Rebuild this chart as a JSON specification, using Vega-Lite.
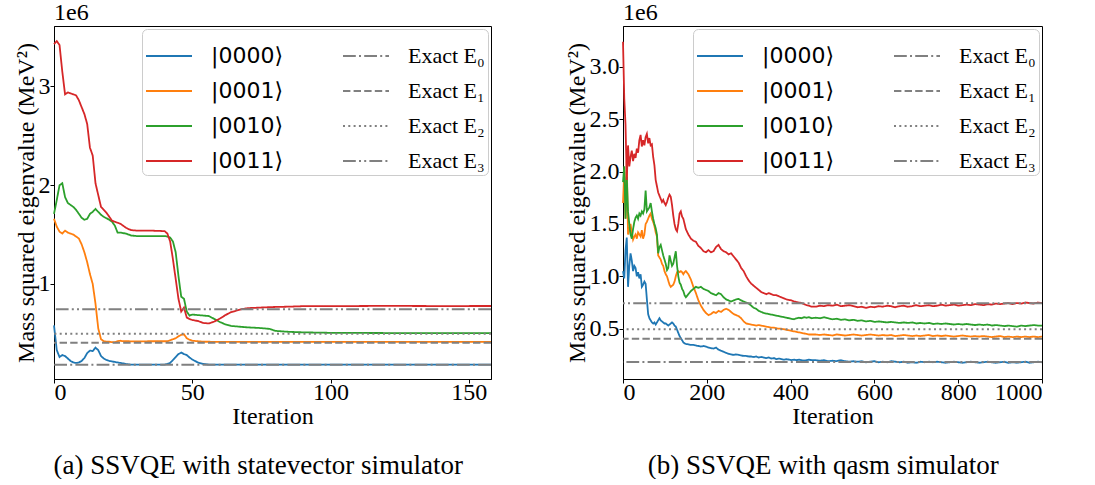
{
  "$schema": "https://vega.github.io/schema/vega-lite/v6.json",
  "background": "white",
  "padding": {"left": 13, "top": 0, "right": 0, "bottom": 0},
  "config": {
    "view": {"stroke": "black", "strokeWidth": 1},
    "font": "Liberation Serif",
    "axis": {"labelFont": "Liberation Serif", "labelFontSize": 24, "titleFont": "Liberation Serif", "titleFontSize": 24, "titleFontWeight": "normal", "grid": false, "domainColor": "black", "tickColor": "black", "labelColor": "black", "titleColor": "black", "tickSize": 4, "labelPadding": 0, "titlePadding": 0},
    "axisX": {"labelPadding": -3},
    "legend": {"orient": "top-right", "offset": 3, "columns": 2, "columnPadding": 56, "rowPadding": 0, "padding": 3, "fillColor": "white", "strokeColor": "#cccccc", "cornerRadius": 5, "symbolType": "stroke", "symbolSize": 2116, "symbolStrokeWidth": 2, "labelFont": {"expr": "indexof(datum.label, 'Exact') >= 0 ? 'Liberation Serif' : 'DejaVu Sans'"}, "labelFontSize": 22, "labelOffset": 18, "labelLimit": 250, "labelColor": "black"}
  },
  "datasets": {
    "exact": [
      {"series": "Exact E₀", "value": 0.183},
      {"series": "Exact E₁", "value": 0.405},
      {"series": "Exact E₂", "value": 0.495},
      {"series": "Exact E₃", "value": 0.743}
    ],
    "a": [
      {"iter": 0, "|0000⟩": 0.58, "|0001⟩": 1.66, "|0010⟩": 1.71, "|0011⟩": 3.43},
      {"iter": 1, "|0000⟩": 0.33, "|0001⟩": 1.58, "|0010⟩": 1.85, "|0011⟩": 3.46},
      {"iter": 2, "|0000⟩": 0.26, "|0001⟩": 1.53, "|0010⟩": 2.0, "|0011⟩": 3.42},
      {"iter": 3, "|0000⟩": 0.28, "|0001⟩": 1.51, "|0010⟩": 2.02, "|0011⟩": 3.15},
      {"iter": 4, "|0000⟩": 0.27, "|0001⟩": 1.54, "|0010⟩": 1.88, "|0011⟩": 2.92},
      {"iter": 5, "|0000⟩": 0.245, "|0001⟩": 1.52, "|0010⟩": 1.82, "|0011⟩": 2.94},
      {"iter": 6, "|0000⟩": 0.22, "|0001⟩": 1.51, "|0010⟩": 1.8, "|0011⟩": 2.93},
      {"iter": 7, "|0000⟩": 0.205, "|0001⟩": 1.5, "|0010⟩": 1.78, "|0011⟩": 2.92},
      {"iter": 8, "|0000⟩": 0.2, "|0001⟩": 1.48, "|0010⟩": 1.75, "|0011⟩": 2.91},
      {"iter": 9, "|0000⟩": 0.205, "|0001⟩": 1.46, "|0010⟩": 1.71, "|0011⟩": 2.86},
      {"iter": 10, "|0000⟩": 0.22, "|0001⟩": 1.4, "|0010⟩": 1.67, "|0011⟩": 2.79},
      {"iter": 11, "|0000⟩": 0.25, "|0001⟩": 1.32, "|0010⟩": 1.65, "|0011⟩": 2.72},
      {"iter": 12, "|0000⟩": 0.3, "|0001⟩": 1.22, "|0010⟩": 1.66, "|0011⟩": 2.62},
      {"iter": 13, "|0000⟩": 0.325, "|0001⟩": 1.1, "|0010⟩": 1.71, "|0011⟩": 2.38},
      {"iter": 14, "|0000⟩": 0.32, "|0001⟩": 1.0, "|0010⟩": 1.73, "|0011⟩": 2.3},
      {"iter": 15, "|0000⟩": 0.355, "|0001⟩": 0.8, "|0010⟩": 1.76, "|0011⟩": 2.02},
      {"iter": 16, "|0000⟩": 0.33, "|0001⟩": 0.55, "|0010⟩": 1.73, "|0011⟩": 1.9},
      {"iter": 17, "|0000⟩": 0.27, "|0001⟩": 0.44, "|0010⟩": 1.7, "|0011⟩": 1.78},
      {"iter": 18, "|0000⟩": 0.245, "|0001⟩": 0.42, "|0010⟩": 1.68, "|0011⟩": 1.75},
      {"iter": 19, "|0000⟩": 0.23, "|0001⟩": 0.415, "|0010⟩": 1.665, "|0011⟩": 1.72},
      {"iter": 20, "|0000⟩": 0.22, "|0001⟩": 0.415, "|0010⟩": 1.65, "|0011⟩": 1.68},
      {"iter": 21, "|0000⟩": 0.215, "|0001⟩": 0.41, "|0010⟩": 1.63, "|0011⟩": 1.64},
      {"iter": 22, "|0000⟩": 0.21, "|0001⟩": 0.41, "|0010⟩": 1.59, "|0011⟩": 1.63},
      {"iter": 23, "|0000⟩": 0.205, "|0001⟩": 0.42, "|0010⟩": 1.52, "|0011⟩": 1.62},
      {"iter": 24, "|0000⟩": 0.2, "|0001⟩": 0.425, "|0010⟩": 1.52, "|0011⟩": 1.61},
      {"iter": 25, "|0000⟩": 0.195, "|0001⟩": 0.42, "|0010⟩": 1.515, "|0011⟩": 1.59},
      {"iter": 26, "|0000⟩": 0.19, "|0001⟩": 0.42, "|0010⟩": 1.51, "|0011⟩": 1.57},
      {"iter": 27, "|0000⟩": 0.186, "|0001⟩": 0.42, "|0010⟩": 1.5, "|0011⟩": 1.555},
      {"iter": 28, "|0000⟩": 0.183, "|0001⟩": 0.418, "|0010⟩": 1.49, "|0011⟩": 1.545},
      {"iter": 30, "|0000⟩": 0.183, "|0001⟩": 0.418, "|0010⟩": 1.485, "|0011⟩": 1.54},
      {"iter": 35, "|0000⟩": 0.183, "|0001⟩": 0.42, "|0010⟩": 1.485, "|0011⟩": 1.54},
      {"iter": 40, "|0000⟩": 0.183, "|0001⟩": 0.42, "|0010⟩": 1.485, "|0011⟩": 1.535},
      {"iter": 41, "|0000⟩": 0.19, "|0001⟩": 0.42, "|0010⟩": 1.48, "|0011⟩": 1.51},
      {"iter": 42, "|0000⟩": 0.2, "|0001⟩": 0.43, "|0010⟩": 1.47, "|0011⟩": 1.43},
      {"iter": 43, "|0000⟩": 0.23, "|0001⟩": 0.44, "|0010⟩": 1.43, "|0011⟩": 1.25},
      {"iter": 44, "|0000⟩": 0.26, "|0001⟩": 0.45, "|0010⟩": 1.32, "|0011⟩": 1.05},
      {"iter": 45, "|0000⟩": 0.29, "|0001⟩": 0.47, "|0010⟩": 1.08, "|0011⟩": 0.85},
      {"iter": 46, "|0000⟩": 0.305, "|0001⟩": 0.485, "|0010⟩": 0.87, "|0011⟩": 0.72},
      {"iter": 47, "|0000⟩": 0.29, "|0001⟩": 0.49, "|0010⟩": 0.85, "|0011⟩": 0.76},
      {"iter": 48, "|0000⟩": 0.28, "|0001⟩": 0.45, "|0010⟩": 0.72, "|0011⟩": 0.66},
      {"iter": 49, "|0000⟩": 0.255, "|0001⟩": 0.435, "|0010⟩": 0.68, "|0011⟩": 0.645},
      {"iter": 50, "|0000⟩": 0.235, "|0001⟩": 0.425, "|0010⟩": 0.69, "|0011⟩": 0.635},
      {"iter": 52, "|0000⟩": 0.205, "|0001⟩": 0.42, "|0010⟩": 0.685, "|0011⟩": 0.625},
      {"iter": 54, "|0000⟩": 0.19, "|0001⟩": 0.415, "|0010⟩": 0.68, "|0011⟩": 0.605},
      {"iter": 56, "|0000⟩": 0.183, "|0001⟩": 0.415, "|0010⟩": 0.675, "|0011⟩": 0.6},
      {"iter": 58, "|0000⟩": 0.183, "|0001⟩": 0.413, "|0010⟩": 0.645, "|0011⟩": 0.62},
      {"iter": 60, "|0000⟩": 0.183, "|0001⟩": 0.413, "|0010⟩": 0.615, "|0011⟩": 0.65},
      {"iter": 62, "|0000⟩": 0.183, "|0001⟩": 0.413, "|0010⟩": 0.59, "|0011⟩": 0.685},
      {"iter": 64, "|0000⟩": 0.183, "|0001⟩": 0.413, "|0010⟩": 0.575, "|0011⟩": 0.715},
      {"iter": 66, "|0000⟩": 0.183, "|0001⟩": 0.413, "|0010⟩": 0.57, "|0011⟩": 0.73},
      {"iter": 68, "|0000⟩": 0.183, "|0001⟩": 0.413, "|0010⟩": 0.565, "|0011⟩": 0.745},
      {"iter": 70, "|0000⟩": 0.183, "|0001⟩": 0.413, "|0010⟩": 0.56, "|0011⟩": 0.755},
      {"iter": 74, "|0000⟩": 0.183, "|0001⟩": 0.413, "|0010⟩": 0.555, "|0011⟩": 0.76},
      {"iter": 78, "|0000⟩": 0.183, "|0001⟩": 0.413, "|0010⟩": 0.545, "|0011⟩": 0.765},
      {"iter": 80, "|0000⟩": 0.183, "|0001⟩": 0.413, "|0010⟩": 0.525, "|0011⟩": 0.767},
      {"iter": 85, "|0000⟩": 0.183, "|0001⟩": 0.413, "|0010⟩": 0.515, "|0011⟩": 0.77},
      {"iter": 90, "|0000⟩": 0.183, "|0001⟩": 0.413, "|0010⟩": 0.51, "|0011⟩": 0.775},
      {"iter": 100, "|0000⟩": 0.183, "|0001⟩": 0.413, "|0010⟩": 0.505, "|0011⟩": 0.775},
      {"iter": 120, "|0000⟩": 0.183, "|0001⟩": 0.413, "|0010⟩": 0.503, "|0011⟩": 0.778},
      {"iter": 140, "|0000⟩": 0.183, "|0001⟩": 0.413, "|0010⟩": 0.503, "|0011⟩": 0.776},
      {"iter": 158, "|0000⟩": 0.183, "|0001⟩": 0.413, "|0010⟩": 0.503, "|0011⟩": 0.777}
    ],
    "b": [
      {"iter": 0, "|0000⟩": 1.05, "|0001⟩": 1.7, "|0010⟩": 1.9, "|0011⟩": 3.24},
      {"iter": 3, "|0000⟩": 0.98, "|0001⟩": 2.0, "|0010⟩": 2.05, "|0011⟩": 2.7},
      {"iter": 6, "|0000⟩": 1.25, "|0001⟩": 1.55, "|0010⟩": 1.55, "|0011⟩": 2.45},
      {"iter": 9, "|0000⟩": 1.37, "|0001⟩": 2.1, "|0010⟩": 1.95, "|0011⟩": 1.92},
      {"iter": 12, "|0000⟩": 0.9, "|0001⟩": 1.4, "|0010⟩": 1.62, "|0011⟩": 2.25},
      {"iter": 15, "|0000⟩": 1.1, "|0001⟩": 1.45, "|0010⟩": 1.5, "|0011⟩": 2.05},
      {"iter": 18, "|0000⟩": 1.22, "|0001⟩": 1.5, "|0010⟩": 1.4, "|0011⟩": 2.14},
      {"iter": 21, "|0000⟩": 1.15, "|0001⟩": 1.42, "|0010⟩": 1.36, "|0011⟩": 2.2},
      {"iter": 24, "|0000⟩": 1.05, "|0001⟩": 1.35, "|0010⟩": 1.45, "|0011⟩": 2.1},
      {"iter": 27, "|0000⟩": 1.1, "|0001⟩": 1.38, "|0010⟩": 1.52, "|0011⟩": 2.17},
      {"iter": 30, "|0000⟩": 1.08, "|0001⟩": 1.4, "|0010⟩": 1.56, "|0011⟩": 2.13},
      {"iter": 33, "|0000⟩": 1.0, "|0001⟩": 1.36, "|0010⟩": 1.58, "|0011⟩": 2.22},
      {"iter": 36, "|0000⟩": 1.04, "|0001⟩": 1.42, "|0010⟩": 1.55, "|0011⟩": 2.18},
      {"iter": 39, "|0000⟩": 0.98, "|0001⟩": 1.4, "|0010⟩": 1.6, "|0011⟩": 2.3},
      {"iter": 42, "|0000⟩": 1.02, "|0001⟩": 1.38, "|0010⟩": 1.58, "|0011⟩": 2.35},
      {"iter": 45, "|0000⟩": 0.9, "|0001⟩": 1.44, "|0010⟩": 1.62, "|0011⟩": 2.24},
      {"iter": 48, "|0000⟩": 0.92, "|0001⟩": 1.36, "|0010⟩": 1.6, "|0011⟩": 2.3},
      {"iter": 51, "|0000⟩": 0.95, "|0001⟩": 1.4, "|0010⟩": 1.64, "|0011⟩": 2.25},
      {"iter": 54, "|0000⟩": 0.93, "|0001⟩": 1.5, "|0010⟩": 1.82, "|0011⟩": 2.33},
      {"iter": 57, "|0000⟩": 0.78, "|0001⟩": 1.52, "|0010⟩": 1.62, "|0011⟩": 2.36},
      {"iter": 60, "|0000⟩": 0.64, "|0001⟩": 1.55, "|0010⟩": 1.64, "|0011⟩": 2.27},
      {"iter": 63, "|0000⟩": 0.6, "|0001⟩": 1.58, "|0010⟩": 1.66, "|0011⟩": 2.32},
      {"iter": 66, "|0000⟩": 0.58, "|0001⟩": 1.6, "|0010⟩": 1.7, "|0011⟩": 2.25},
      {"iter": 69, "|0000⟩": 0.56, "|0001⟩": 1.55, "|0010⟩": 1.62, "|0011⟩": 2.26},
      {"iter": 72, "|0000⟩": 0.55, "|0001⟩": 1.52, "|0010⟩": 1.55, "|0011⟩": 2.14},
      {"iter": 75, "|0000⟩": 0.56, "|0001⟩": 1.48, "|0010⟩": 1.5, "|0011⟩": 2.06},
      {"iter": 78, "|0000⟩": 0.54, "|0001⟩": 1.42, "|0010⟩": 1.46, "|0011⟩": 1.92},
      {"iter": 81, "|0000⟩": 0.56, "|0001⟩": 1.38, "|0010⟩": 1.4, "|0011⟩": 1.86},
      {"iter": 84, "|0000⟩": 0.58, "|0001⟩": 1.2, "|0010⟩": 1.22, "|0011⟩": 1.8},
      {"iter": 87, "|0000⟩": 0.6, "|0001⟩": 1.18, "|0010⟩": 1.28, "|0011⟩": 1.77},
      {"iter": 90, "|0000⟩": 0.58, "|0001⟩": 1.16, "|0010⟩": 1.3, "|0011⟩": 1.74},
      {"iter": 93, "|0000⟩": 0.57, "|0001⟩": 1.12, "|0010⟩": 1.25, "|0011⟩": 1.71},
      {"iter": 96, "|0000⟩": 0.56, "|0001⟩": 1.1, "|0010⟩": 1.2, "|0011⟩": 1.73},
      {"iter": 99, "|0000⟩": 0.55, "|0001⟩": 1.05, "|0010⟩": 1.16, "|0011⟩": 1.7},
      {"iter": 102, "|0000⟩": 0.55, "|0001⟩": 1.02, "|0010⟩": 1.12, "|0011⟩": 1.68},
      {"iter": 105, "|0000⟩": 0.54, "|0001⟩": 1.0, "|0010⟩": 1.06, "|0011⟩": 1.71},
      {"iter": 108, "|0000⟩": 0.53, "|0001⟩": 0.96, "|0010⟩": 1.08, "|0011⟩": 1.75},
      {"iter": 111, "|0000⟩": 0.54, "|0001⟩": 0.92, "|0010⟩": 1.2, "|0011⟩": 1.78},
      {"iter": 114, "|0000⟩": 0.55, "|0001⟩": 0.9, "|0010⟩": 1.15, "|0011⟩": 1.76},
      {"iter": 117, "|0000⟩": 0.56, "|0001⟩": 0.91, "|0010⟩": 1.1, "|0011⟩": 1.68},
      {"iter": 120, "|0000⟩": 0.55, "|0001⟩": 0.92, "|0010⟩": 1.12, "|0011⟩": 1.58},
      {"iter": 123, "|0000⟩": 0.53, "|0001⟩": 0.95, "|0010⟩": 1.18, "|0011⟩": 1.5},
      {"iter": 126, "|0000⟩": 0.52, "|0001⟩": 1.0, "|0010⟩": 1.24, "|0011⟩": 1.45},
      {"iter": 129, "|0000⟩": 0.49, "|0001⟩": 1.04, "|0010⟩": 1.1, "|0011⟩": 1.43},
      {"iter": 132, "|0000⟩": 0.46, "|0001⟩": 1.05, "|0010⟩": 1.0, "|0011⟩": 1.5},
      {"iter": 135, "|0000⟩": 0.43, "|0001⟩": 1.04, "|0010⟩": 0.94, "|0011⟩": 1.6},
      {"iter": 138, "|0000⟩": 0.41, "|0001⟩": 1.05, "|0010⟩": 0.92, "|0011⟩": 1.62},
      {"iter": 141, "|0000⟩": 0.39, "|0001⟩": 1.04, "|0010⟩": 0.88, "|0011⟩": 1.57},
      {"iter": 144, "|0000⟩": 0.37, "|0001⟩": 1.02, "|0010⟩": 0.86, "|0011⟩": 1.55},
      {"iter": 147, "|0000⟩": 0.36, "|0001⟩": 1.04, "|0010⟩": 0.82, "|0011⟩": 1.5},
      {"iter": 150, "|0000⟩": 0.355, "|0001⟩": 1.05, "|0010⟩": 0.8, "|0011⟩": 1.45},
      {"iter": 156, "|0000⟩": 0.35, "|0001⟩": 1.02, "|0010⟩": 0.83, "|0011⟩": 1.4},
      {"iter": 162, "|0000⟩": 0.345, "|0001⟩": 0.97, "|0010⟩": 0.86, "|0011⟩": 1.36},
      {"iter": 168, "|0000⟩": 0.345, "|0001⟩": 0.9, "|0010⟩": 0.88, "|0011⟩": 1.34},
      {"iter": 174, "|0000⟩": 0.34, "|0001⟩": 0.84, "|0010⟩": 0.9, "|0011⟩": 1.33},
      {"iter": 180, "|0000⟩": 0.335, "|0001⟩": 0.77, "|0010⟩": 0.89, "|0011⟩": 1.29},
      {"iter": 186, "|0000⟩": 0.33, "|0001⟩": 0.72, "|0010⟩": 0.9, "|0011⟩": 1.27},
      {"iter": 192, "|0000⟩": 0.335, "|0001⟩": 0.68, "|0010⟩": 0.88, "|0011⟩": 1.24},
      {"iter": 198, "|0000⟩": 0.33, "|0001⟩": 0.65, "|0010⟩": 0.87, "|0011⟩": 1.23},
      {"iter": 204, "|0000⟩": 0.32, "|0001⟩": 0.63, "|0010⟩": 0.86, "|0011⟩": 1.25},
      {"iter": 210, "|0000⟩": 0.315, "|0001⟩": 0.64, "|0010⟩": 0.84, "|0011⟩": 1.23},
      {"iter": 216, "|0000⟩": 0.31, "|0001⟩": 0.66, "|0010⟩": 0.83, "|0011⟩": 1.24},
      {"iter": 222, "|0000⟩": 0.32, "|0001⟩": 0.65, "|0010⟩": 0.82, "|0011⟩": 1.28},
      {"iter": 228, "|0000⟩": 0.3, "|0001⟩": 0.67, "|0010⟩": 0.84, "|0011⟩": 1.3},
      {"iter": 234, "|0000⟩": 0.29, "|0001⟩": 0.66, "|0010⟩": 0.83, "|0011⟩": 1.26},
      {"iter": 240, "|0000⟩": 0.28, "|0001⟩": 0.68, "|0010⟩": 0.8, "|0011⟩": 1.24},
      {"iter": 246, "|0000⟩": 0.27, "|0001⟩": 0.69, "|0010⟩": 0.78, "|0011⟩": 1.23},
      {"iter": 252, "|0000⟩": 0.26, "|0001⟩": 0.68, "|0010⟩": 0.77, "|0011⟩": 1.21},
      {"iter": 258, "|0000⟩": 0.255, "|0001⟩": 0.66, "|0010⟩": 0.76, "|0011⟩": 1.22},
      {"iter": 264, "|0000⟩": 0.25, "|0001⟩": 0.64, "|0010⟩": 0.77, "|0011⟩": 1.19},
      {"iter": 270, "|0000⟩": 0.255, "|0001⟩": 0.63, "|0010⟩": 0.78, "|0011⟩": 1.16},
      {"iter": 276, "|0000⟩": 0.25, "|0001⟩": 0.62, "|0010⟩": 0.785, "|0011⟩": 1.13},
      {"iter": 282, "|0000⟩": 0.245, "|0001⟩": 0.6, "|0010⟩": 0.77, "|0011⟩": 1.08},
      {"iter": 288, "|0000⟩": 0.24, "|0001⟩": 0.57, "|0010⟩": 0.76, "|0011⟩": 1.05},
      {"iter": 294, "|0000⟩": 0.24, "|0001⟩": 0.55, "|0010⟩": 0.75, "|0011⟩": 1.0},
      {"iter": 300, "|0000⟩": 0.235, "|0001⟩": 0.545, "|0010⟩": 0.74, "|0011⟩": 0.96},
      {"iter": 306, "|0000⟩": 0.235, "|0001⟩": 0.54, "|0010⟩": 0.72, "|0011⟩": 0.93},
      {"iter": 312, "|0000⟩": 0.23, "|0001⟩": 0.535, "|0010⟩": 0.7, "|0011⟩": 0.91},
      {"iter": 318, "|0000⟩": 0.235, "|0001⟩": 0.53, "|0010⟩": 0.69, "|0011⟩": 0.89},
      {"iter": 324, "|0000⟩": 0.225, "|0001⟩": 0.535, "|0010⟩": 0.67, "|0011⟩": 0.87},
      {"iter": 330, "|0000⟩": 0.23, "|0001⟩": 0.53, "|0010⟩": 0.66, "|0011⟩": 0.85},
      {"iter": 336, "|0000⟩": 0.225, "|0001⟩": 0.525, "|0010⟩": 0.65, "|0011⟩": 0.84},
      {"iter": 342, "|0000⟩": 0.22, "|0001⟩": 0.52, "|0010⟩": 0.645, "|0011⟩": 0.83},
      {"iter": 348, "|0000⟩": 0.225, "|0001⟩": 0.515, "|0010⟩": 0.64, "|0011⟩": 0.84},
      {"iter": 354, "|0000⟩": 0.215, "|0001⟩": 0.51, "|0010⟩": 0.635, "|0011⟩": 0.83},
      {"iter": 360, "|0000⟩": 0.22, "|0001⟩": 0.51, "|0010⟩": 0.63, "|0011⟩": 0.82},
      {"iter": 366, "|0000⟩": 0.21, "|0001⟩": 0.505, "|0010⟩": 0.625, "|0011⟩": 0.82},
      {"iter": 372, "|0000⟩": 0.215, "|0001⟩": 0.5, "|0010⟩": 0.62, "|0011⟩": 0.81},
      {"iter": 378, "|0000⟩": 0.21, "|0001⟩": 0.5, "|0010⟩": 0.615, "|0011⟩": 0.8},
      {"iter": 384, "|0000⟩": 0.205, "|0001⟩": 0.495, "|0010⟩": 0.61, "|0011⟩": 0.79},
      {"iter": 390, "|0000⟩": 0.21, "|0001⟩": 0.49, "|0010⟩": 0.605, "|0011⟩": 0.78},
      {"iter": 396, "|0000⟩": 0.205, "|0001⟩": 0.485, "|0010⟩": 0.6, "|0011⟩": 0.775},
      {"iter": 402, "|0000⟩": 0.2, "|0001⟩": 0.48, "|0010⟩": 0.595, "|0011⟩": 0.77},
      {"iter": 408, "|0000⟩": 0.205, "|0001⟩": 0.475, "|0010⟩": 0.59, "|0011⟩": 0.76},
      {"iter": 414, "|0000⟩": 0.2, "|0001⟩": 0.47, "|0010⟩": 0.6, "|0011⟩": 0.755},
      {"iter": 420, "|0000⟩": 0.205, "|0001⟩": 0.465, "|0010⟩": 0.605, "|0011⟩": 0.75},
      {"iter": 426, "|0000⟩": 0.2, "|0001⟩": 0.46, "|0010⟩": 0.6, "|0011⟩": 0.745},
      {"iter": 432, "|0000⟩": 0.195, "|0001⟩": 0.455, "|0010⟩": 0.61, "|0011⟩": 0.735},
      {"iter": 438, "|0000⟩": 0.2, "|0001⟩": 0.45, "|0010⟩": 0.605, "|0011⟩": 0.725},
      {"iter": 444, "|0000⟩": 0.205, "|0001⟩": 0.445, "|0010⟩": 0.61, "|0011⟩": 0.72},
      {"iter": 450, "|0000⟩": 0.2, "|0001⟩": 0.445, "|0010⟩": 0.6, "|0011⟩": 0.71},
      {"iter": 460, "|0000⟩": 0.2, "|0001⟩": 0.445, "|0010⟩": 0.605, "|0011⟩": 0.71},
      {"iter": 470, "|0000⟩": 0.195, "|0001⟩": 0.44, "|0010⟩": 0.6, "|0011⟩": 0.72},
      {"iter": 480, "|0000⟩": 0.2, "|0001⟩": 0.445, "|0010⟩": 0.61, "|0011⟩": 0.715},
      {"iter": 490, "|0000⟩": 0.19, "|0001⟩": 0.44, "|0010⟩": 0.6, "|0011⟩": 0.725},
      {"iter": 500, "|0000⟩": 0.195, "|0001⟩": 0.435, "|0010⟩": 0.59, "|0011⟩": 0.72},
      {"iter": 510, "|0000⟩": 0.19, "|0001⟩": 0.445, "|0010⟩": 0.595, "|0011⟩": 0.73},
      {"iter": 520, "|0000⟩": 0.2, "|0001⟩": 0.44, "|0010⟩": 0.585, "|0011⟩": 0.715},
      {"iter": 530, "|0000⟩": 0.19, "|0001⟩": 0.435, "|0010⟩": 0.59, "|0011⟩": 0.72},
      {"iter": 540, "|0000⟩": 0.185, "|0001⟩": 0.44, "|0010⟩": 0.58, "|0011⟩": 0.725},
      {"iter": 550, "|0000⟩": 0.19, "|0001⟩": 0.445, "|0010⟩": 0.585, "|0011⟩": 0.715},
      {"iter": 560, "|0000⟩": 0.185, "|0001⟩": 0.44, "|0010⟩": 0.575, "|0011⟩": 0.705},
      {"iter": 570, "|0000⟩": 0.19, "|0001⟩": 0.435, "|0010⟩": 0.58, "|0011⟩": 0.71},
      {"iter": 580, "|0000⟩": 0.18, "|0001⟩": 0.44, "|0010⟩": 0.57, "|0011⟩": 0.7},
      {"iter": 590, "|0000⟩": 0.185, "|0001⟩": 0.445, "|0010⟩": 0.575, "|0011⟩": 0.71},
      {"iter": 600, "|0000⟩": 0.19, "|0001⟩": 0.44, "|0010⟩": 0.565, "|0011⟩": 0.705},
      {"iter": 610, "|0000⟩": 0.18, "|0001⟩": 0.435, "|0010⟩": 0.57, "|0011⟩": 0.715},
      {"iter": 620, "|0000⟩": 0.185, "|0001⟩": 0.44, "|0010⟩": 0.565, "|0011⟩": 0.71},
      {"iter": 630, "|0000⟩": 0.18, "|0001⟩": 0.435, "|0010⟩": 0.56, "|0011⟩": 0.72},
      {"iter": 640, "|0000⟩": 0.19, "|0001⟩": 0.44, "|0010⟩": 0.565, "|0011⟩": 0.715},
      {"iter": 650, "|0000⟩": 0.185, "|0001⟩": 0.43, "|0010⟩": 0.56, "|0011⟩": 0.705},
      {"iter": 660, "|0000⟩": 0.18, "|0001⟩": 0.435, "|0010⟩": 0.555, "|0011⟩": 0.715},
      {"iter": 670, "|0000⟩": 0.185, "|0001⟩": 0.44, "|0010⟩": 0.56, "|0011⟩": 0.72},
      {"iter": 680, "|0000⟩": 0.175, "|0001⟩": 0.435, "|0010⟩": 0.555, "|0011⟩": 0.71},
      {"iter": 690, "|0000⟩": 0.18, "|0001⟩": 0.43, "|0010⟩": 0.56, "|0011⟩": 0.715},
      {"iter": 700, "|0000⟩": 0.175, "|0001⟩": 0.435, "|0010⟩": 0.55, "|0011⟩": 0.725},
      {"iter": 710, "|0000⟩": 0.185, "|0001⟩": 0.43, "|0010⟩": 0.555, "|0011⟩": 0.715},
      {"iter": 720, "|0000⟩": 0.18, "|0001⟩": 0.435, "|0010⟩": 0.55, "|0011⟩": 0.72},
      {"iter": 730, "|0000⟩": 0.185, "|0001⟩": 0.44, "|0010⟩": 0.555, "|0011⟩": 0.725},
      {"iter": 740, "|0000⟩": 0.18, "|0001⟩": 0.43, "|0010⟩": 0.545, "|0011⟩": 0.715},
      {"iter": 750, "|0000⟩": 0.185, "|0001⟩": 0.435, "|0010⟩": 0.55, "|0011⟩": 0.72},
      {"iter": 760, "|0000⟩": 0.18, "|0001⟩": 0.43, "|0010⟩": 0.545, "|0011⟩": 0.73},
      {"iter": 770, "|0000⟩": 0.175, "|0001⟩": 0.435, "|0010⟩": 0.55, "|0011⟩": 0.72},
      {"iter": 780, "|0000⟩": 0.18, "|0001⟩": 0.43, "|0010⟩": 0.545, "|0011⟩": 0.725},
      {"iter": 790, "|0000⟩": 0.185, "|0001⟩": 0.425, "|0010⟩": 0.54, "|0011⟩": 0.73},
      {"iter": 800, "|0000⟩": 0.18, "|0001⟩": 0.43, "|0010⟩": 0.545, "|0011⟩": 0.72},
      {"iter": 810, "|0000⟩": 0.175, "|0001⟩": 0.435, "|0010⟩": 0.54, "|0011⟩": 0.725},
      {"iter": 820, "|0000⟩": 0.18, "|0001⟩": 0.43, "|0010⟩": 0.545, "|0011⟩": 0.73},
      {"iter": 830, "|0000⟩": 0.185, "|0001⟩": 0.425, "|0010⟩": 0.54, "|0011⟩": 0.725},
      {"iter": 840, "|0000⟩": 0.18, "|0001⟩": 0.43, "|0010⟩": 0.535, "|0011⟩": 0.735},
      {"iter": 850, "|0000⟩": 0.175, "|0001⟩": 0.425, "|0010⟩": 0.54, "|0011⟩": 0.73},
      {"iter": 860, "|0000⟩": 0.18, "|0001⟩": 0.43, "|0010⟩": 0.535, "|0011⟩": 0.725},
      {"iter": 870, "|0000⟩": 0.185, "|0001⟩": 0.425, "|0010⟩": 0.54, "|0011⟩": 0.735},
      {"iter": 880, "|0000⟩": 0.18, "|0001⟩": 0.42, "|0010⟩": 0.53, "|0011⟩": 0.73},
      {"iter": 890, "|0000⟩": 0.175, "|0001⟩": 0.425, "|0010⟩": 0.535, "|0011⟩": 0.74},
      {"iter": 900, "|0000⟩": 0.18, "|0001⟩": 0.43, "|0010⟩": 0.53, "|0011⟩": 0.735},
      {"iter": 910, "|0000⟩": 0.185, "|0001⟩": 0.42, "|0010⟩": 0.525, "|0011⟩": 0.74},
      {"iter": 920, "|0000⟩": 0.175, "|0001⟩": 0.425, "|0010⟩": 0.53, "|0011⟩": 0.745},
      {"iter": 930, "|0000⟩": 0.18, "|0001⟩": 0.42, "|0010⟩": 0.525, "|0011⟩": 0.735},
      {"iter": 940, "|0000⟩": 0.175, "|0001⟩": 0.425, "|0010⟩": 0.52, "|0011⟩": 0.745},
      {"iter": 950, "|0000⟩": 0.18, "|0001⟩": 0.42, "|0010⟩": 0.53, "|0011⟩": 0.74},
      {"iter": 960, "|0000⟩": 0.185, "|0001⟩": 0.425, "|0010⟩": 0.525, "|0011⟩": 0.75},
      {"iter": 970, "|0000⟩": 0.175, "|0001⟩": 0.42, "|0010⟩": 0.53, "|0011⟩": 0.745},
      {"iter": 980, "|0000⟩": 0.18, "|0001⟩": 0.425, "|0010⟩": 0.535, "|0011⟩": 0.74},
      {"iter": 990, "|0000⟩": 0.185, "|0001⟩": 0.42, "|0010⟩": 0.53, "|0011⟩": 0.75},
      {"iter": 1000, "|0000⟩": 0.18, "|0001⟩": 0.425, "|0010⟩": 0.53, "|0011⟩": 0.745}
    ]
  },
  "hconcat": [
    {
      "title": {"text": "(a) SSVQE with statevector simulator", "orient": "bottom", "anchor": "middle", "frame": "bounds", "fontSize": 27, "font": "Liberation Serif", "fontWeight": "normal", "offset": 24, "dx": 4, "color": "black"},
      "resolve": {"legend": {"color": "independent", "strokeDash": "independent"}},
      "vconcat": [
        {
          "title": {"text": "1e6", "anchor": "start", "frame": "group", "fontSize": 24, "font": "Liberation Serif", "fontWeight": "normal", "offset": 1, "color": "black"},
          "width": 437,
          "height": 353,
          "layer": [
            {
              "data": {"name": "a"},
              "transform": [{"fold": ["|0000⟩", "|0001⟩", "|0010⟩", "|0011⟩"], "as": ["series", "value"]}],
              "mark": {"type": "line", "strokeWidth": 1.8},
              "encoding": {
                "x": {"field": "iter", "type": "quantitative", "scale": {"domain": [0, 158], "nice": false, "zero": false}, "axis": {"values": [0, 50, 100, 150], "format": "d", "title": "Iteration"}},
                "y": {"field": "value", "type": "quantitative", "scale": {"domain": [0.0375, 3.6125], "nice": false, "zero": false}, "axis": {"values": [1, 2, 3], "format": "d", "title": "Mass squared eigenvalue (MeV²)"}},
                "color": {"field": "series", "type": "nominal", "scale": {"domain": ["|0000⟩", "|0001⟩", "|0010⟩", "|0011⟩", "Exact E₀", "Exact E₁", "Exact E₂", "Exact E₃"], "range": ["#1f77b4", "#ff7f0e", "#2ca02c", "#d62728", "#808080", "#808080", "#808080", "#808080"]}, "legend": {"title": null, "orient": "top-right"}},
                "strokeDash": {"field": "series", "type": "nominal", "scale": {"domain": ["|0000⟩", "|0001⟩", "|0010⟩", "|0011⟩", "Exact E₀", "Exact E₁", "Exact E₂", "Exact E₃"], "range": [[1, 0], [1, 0], [1, 0], [1, 0], [12.8, 3.2, 2, 3.2], [7.4, 3.2], [2, 3.3], [12.8, 3.2, 2, 3.2, 2, 3.2]]}, "legend": {"title": null, "orient": "top-right"}}
              }
            },
            {
              "data": {"name": "exact"},
              "mark": {"type": "rule", "strokeWidth": 2},
              "encoding": {
                "y": {"field": "value", "type": "quantitative"},
                "color": {"field": "series", "type": "nominal"},
                "strokeDash": {"field": "series", "type": "nominal"}
              }
            }
          ]
        }
      ]
    },
    {
      "title": {"text": "(b) SSVQE with qasm simulator", "orient": "bottom", "anchor": "middle", "frame": "bounds", "fontSize": 27, "font": "Liberation Serif", "fontWeight": "normal", "offset": 24, "dx": 18, "color": "black"},
      "resolve": {"legend": {"color": "independent", "strokeDash": "independent"}},
      "vconcat": [
        {
          "title": {"text": "1e6", "anchor": "start", "frame": "group", "fontSize": 24, "font": "Liberation Serif", "fontWeight": "normal", "offset": 1, "color": "black"},
          "width": 419,
          "height": 353,
          "layer": [
            {
              "data": {"name": "b"},
              "transform": [{"fold": ["|0000⟩", "|0001⟩", "|0010⟩", "|0011⟩"], "as": ["series", "value"]}],
              "mark": {"type": "line", "strokeWidth": 1.8},
              "encoding": {
                "x": {"field": "iter", "type": "quantitative", "scale": {"domain": [0, 1000], "nice": false, "zero": false}, "axis": {"values": [0, 200, 400, 600, 800, 1000], "format": "d", "title": "Iteration"}},
                "y": {"field": "value", "type": "quantitative", "scale": {"domain": [0.02, 3.39], "nice": false, "zero": false}, "axis": {"values": [0.5, 1, 1.5, 2, 2.5, 3], "format": ".1f", "title": "Mass squared eigenvalue (MeV²)"}},
                "color": {"field": "series", "type": "nominal", "scale": {"domain": ["|0000⟩", "|0001⟩", "|0010⟩", "|0011⟩", "Exact E₀", "Exact E₁", "Exact E₂", "Exact E₃"], "range": ["#1f77b4", "#ff7f0e", "#2ca02c", "#d62728", "#808080", "#808080", "#808080", "#808080"]}, "legend": {"title": null, "orient": "top-right"}},
                "strokeDash": {"field": "series", "type": "nominal", "scale": {"domain": ["|0000⟩", "|0001⟩", "|0010⟩", "|0011⟩", "Exact E₀", "Exact E₁", "Exact E₂", "Exact E₃"], "range": [[1, 0], [1, 0], [1, 0], [1, 0], [12.8, 3.2, 2, 3.2], [7.4, 3.2], [2, 3.3], [12.8, 3.2, 2, 3.2, 2, 3.2]]}, "legend": {"title": null, "orient": "top-right"}}
              }
            },
            {
              "data": {"name": "exact"},
              "mark": {"type": "rule", "strokeWidth": 2},
              "encoding": {
                "y": {"field": "value", "type": "quantitative"},
                "color": {"field": "series", "type": "nominal"},
                "strokeDash": {"field": "series", "type": "nominal"}
              }
            }
          ]
        }
      ]
    }
  ],
  "spacing": 68,
  "resolve": {"scale": {"color": "independent", "strokeDash": "independent", "x": "independent", "y": "independent"}, "legend": {"color": "independent", "strokeDash": "independent"}}
}
